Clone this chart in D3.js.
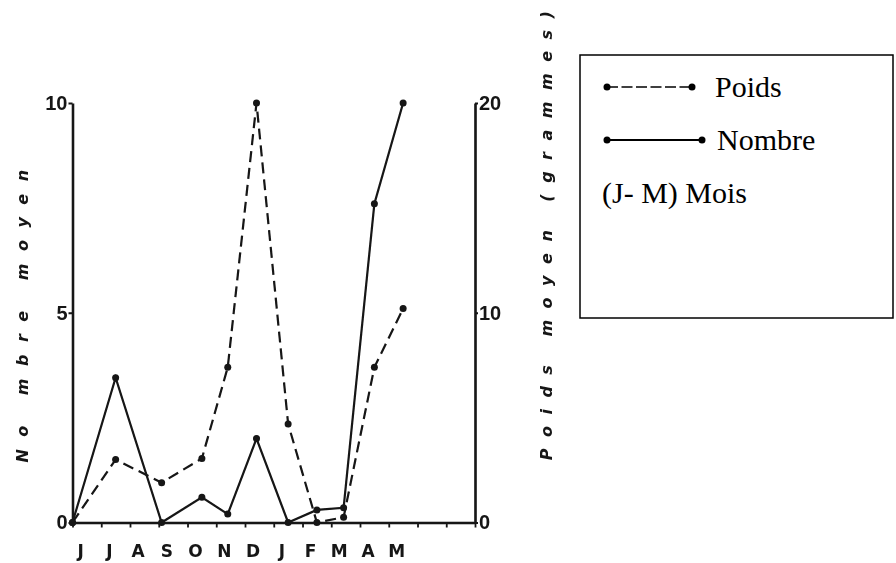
<!DOCTYPE html>
<html>
<head>
<meta charset="utf-8">
<script src="https://cdn.jsdelivr.net/npm/d3@7"></script>
<style>
  body { margin: 0; background: #fff; }
  svg { display: block; }
</style>
</head>
<body>
<svg id="chart" width="896" height="563"></svg>
<script>
// Month labels along the time axis (June to May)
const monthLabels = ["J", "J", "A", "S", "O", "N", "D", "J", "F", "M", "A", "M"];
// Sampling dates, in months elapsed since the 1st of June (no sample in August)
const sampleTime = [0, 1.5, 3.1, 4.5, 5.4, 6.4, 7.5, 8.5, 9.43, 10.5, 11.5];
// Mean number per sample (left axis)
const nombre = [0, 3.45, 0, 0.6, 0.2, 2.0, 0, 0.3, 0.35, 7.6, 10];
// Mean weight in grams per sample (right axis)
const poids = [0, 3.0, 1.9, 3.05, 7.4, 20, 4.7, 0, 0.25, 7.4, 10.2];
// Axis tick values
const nombreTicks = [0, 5, 10];
const poidsTicks = [0, 10, 20];
const monthTicks = d3.range(0, 15);

const svg = d3.select("#chart");
const ink = "#141414";
const sans = "'DejaVu Sans', 'Liberation Sans', sans-serif";
const narrow = "'Liberation Sans', Arial, sans-serif";
const serif = "'Liberation Serif', 'Times New Roman', serif";

// soft scan-like look for the drawing itself
const defs = svg.append("defs");
defs.append("filter").attr("id", "soft")
  .append("feGaussianBlur").attr("stdDeviation", 0.55);

const plot = svg.append("g").attr("filter", "url(#soft)");

const x = d3.scaleLinear().domain([0, 14]).range([72.5, 475]);
const yN = d3.scaleLinear().domain([0, 10]).range([522.5, 103]);
const yP = d3.scaleLinear().domain([0, 20]).range([522.5, 103]);

// bottom axis with small ticks, no numbers
const xAxis = plot.append("g")
  .attr("transform", `translate(0,${yN(0)})`)
  .call(d3.axisBottom(x).tickValues(monthTicks).tickSize(5).tickSizeOuter(0).tickFormat(""));
xAxis.select(".domain").attr("stroke", ink).attr("stroke-width", 2.6);
xAxis.selectAll(".tick line").attr("stroke", ink).attr("stroke-width", 1.8);

// left axis : Nombre moyen
const left = plot.append("g")
  .attr("transform", `translate(${x(0)},0)`)
  .call(d3.axisLeft(yN).tickValues(nombreTicks).tickSize(4).tickSizeOuter(0).tickPadding(1));
left.select(".domain").attr("stroke", ink).attr("stroke-width", 2.6);
left.selectAll(".tick line").attr("stroke", ink).attr("stroke-width", 2);
left.selectAll(".tick text")
  .attr("font-family", narrow)
  .attr("font-weight", "bold").attr("font-size", 20).attr("fill", ink);

// right axis : Poids moyen
const right = plot.append("g")
  .attr("transform", `translate(${x(14)},0)`)
  .call(d3.axisRight(yP).tickValues(poidsTicks).tickSize(3).tickSizeOuter(0).tickPadding(1));
right.select(".domain").attr("stroke", ink).attr("stroke-width", 2.6);
right.selectAll(".tick line").attr("stroke", ink).attr("stroke-width", 2);
right.selectAll(".tick text")
  .attr("font-family", narrow)
  .attr("font-weight", "bold").attr("font-size", 20).attr("fill", ink);

// month letters
plot.append("g").selectAll("text")
  .data(monthLabels)
  .join("text")
  .attr("x", (d, i) => x(i + 0.28))
  .attr("y", 557)
  .attr("text-anchor", "middle")
  .attr("font-family", sans)
  .attr("font-weight", "bold")
  .attr("font-size", 17)
  .attr("fill", ink)
  .text(d => d);

// axis titles, widely spaced italic lettering
plot.append("text")
  .attr("transform", `translate(28,${310}) rotate(-90)`)
  .attr("text-anchor", "middle")
  .attr("font-family", sans)
  .attr("font-weight", "bold").attr("font-style", "italic")
  .attr("font-size", 16).attr("letter-spacing", 12.5)
  .attr("fill", ink)
  .text("No mbre moyen");

plot.append("text")
  .attr("transform", `translate(552,${230}) rotate(-90)`)
  .attr("text-anchor", "middle")
  .attr("font-family", sans)
  .attr("font-weight", "bold").attr("font-style", "italic")
  .attr("font-size", 16).attr("letter-spacing", 11.5)
  .attr("fill", ink)
  .text("Poids moyen (grammes)");

// series
const nombrePts = sampleTime.map((t, i) => [x(t), yN(nombre[i])]);
const poidsPts = sampleTime.map((t, i) => [x(t), yP(poids[i])]);
const line = d3.line();

plot.append("path")
  .attr("d", line(poidsPts))
  .attr("fill", "none").attr("stroke", ink)
  .attr("stroke-width", 2.2).attr("stroke-dasharray", "11,6");

plot.append("path")
  .attr("d", line(nombrePts))
  .attr("fill", "none").attr("stroke", ink)
  .attr("stroke-width", 2.2);

plot.append("g").selectAll("circle")
  .data(poidsPts.concat(nombrePts))
  .join("circle")
  .attr("cx", d => d[0]).attr("cy", d => d[1])
  .attr("r", 3.5).attr("fill", ink);

// legend box
const legend = svg.append("g");
legend.append("rect")
  .attr("x", 580).attr("y", 55).attr("width", 313).attr("height", 263)
  .attr("fill", "#fff").attr("stroke", "#000").attr("stroke-width", 1.5);

// Poids entry (dashed)
legend.append("line")
  .attr("x1", 607).attr("x2", 692).attr("y1", 87).attr("y2", 87)
  .attr("stroke", "#000").attr("stroke-width", 1.4).attr("stroke-dasharray", "11,3.5");
legend.selectAll(".pd").data([607, 692]).join("circle")
  .attr("cx", d => d).attr("cy", 87).attr("r", 3.5).attr("fill", "#000");
legend.append("text")
  .attr("x", 715).attr("y", 97)
  .attr("font-family", serif).attr("font-size", 30).attr("fill", "#000")
  .text("Poids");

// Nombre entry (solid)
legend.append("line")
  .attr("x1", 607).attr("x2", 702).attr("y1", 140).attr("y2", 140)
  .attr("stroke", "#000").attr("stroke-width", 2);
legend.selectAll(".nd").data([607, 702]).join("circle")
  .attr("cx", d => d).attr("cy", 140).attr("r", 3.5).attr("fill", "#000");
legend.append("text")
  .attr("x", 717).attr("y", 150)
  .attr("font-family", serif).attr("font-size", 30).attr("fill", "#000")
  .text("Nombre");

legend.append("text")
  .attr("x", 602).attr("y", 203)
  .attr("font-family", serif).attr("font-size", 30).attr("fill", "#000")
  .text("(J- M) Mois");
</script>
</body>
</html>
